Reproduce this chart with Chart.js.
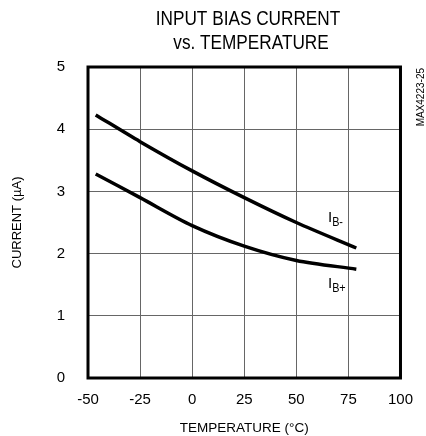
<!DOCTYPE html>
<html><head><meta charset="utf-8">
<script src="https://cdn.jsdelivr.net/npm/chart.js@4/dist/chart.umd.min.js"></script>
<style>html,body{margin:0;padding:0;background:#fff;}canvas{display:block;}</style>
</head><body>
<canvas id="c" width="426" height="436"></canvas>
<script>
const temperatures = [-46.3, -25, 0, 25, 50, 78.8];
const ibMinus = [4.23, 3.80, 3.33, 2.90, 2.50, 2.09];
const ibPlus = [3.28, 2.90, 2.45, 2.12, 1.89, 1.75];
const xTicks = [-50, -25, 0, 25, 50, 75, 100];
const yTicks = [0, 1, 2, 3, 4, 5];
const titleLines = ['INPUT BIAS CURRENT', 'vs. TEMPERATURE'];

const FONT = "'Liberation Sans', Arial, sans-serif";

const pts = (xs, ys) => xs.map((x, i) => ({x, y: ys[i]}));

const deco = {
  id: 'deco',
  afterDraw(chart) {
    const {ctx, chartArea: a} = chart;
    ctx.save();
    ctx.strokeStyle = '#000';
    ctx.lineWidth = 3;
    ctx.strokeRect(a.left, a.top, a.right - a.left, a.bottom - a.top);
    ctx.fillStyle = '#000';
    ctx.textBaseline = 'alphabetic';
    const cond = (txt, cx, y, size, k) => {
      ctx.save();
      ctx.font = size + "px " + FONT;
      ctx.textAlign = 'center';
      ctx.translate(cx, y);
      ctx.scale(k, 1);
      ctx.fillText(txt, 0, 0);
      ctx.restore();
    };
    cond(titleLines[0], 248, 25, 20, 0.86);
    cond(titleLines[1], 251, 49, 20, 0.86);
    const lab = (x, y, sub) => {
      ctx.textAlign = 'left';
      ctx.font = "15px " + FONT;
      ctx.fillText('I', x, y);
      const w = ctx.measureText('I').width;
      ctx.save();
      ctx.translate(x + w, y + 4);
      ctx.scale(0.9, 1);
      ctx.font = "12px " + FONT;
      ctx.fillText(sub, 0, 0);
      ctx.restore();
    };
    lab(328, 222, 'B-');
    lab(328, 288, 'B+');
    ctx.translate(426, 68);
    ctx.rotate(-Math.PI / 2);
    ctx.textAlign = 'right';
    ctx.textBaseline = 'bottom';
    ctx.font = "10px " + FONT;
    ctx.fillText('MAX4223-25', 0, 0);
    ctx.restore();
  }
};

new Chart(document.getElementById('c'), {
  type: 'line',
  data: {
    datasets: [
      {label: 'IB-', data: pts(temperatures, ibMinus), borderColor: '#000', borderWidth: 3.5, pointRadius: 0, tension: 0.3, fill: false},
      {label: 'IB+', data: pts(temperatures, ibPlus), borderColor: '#000', borderWidth: 3.5, pointRadius: 0, tension: 0.3, fill: false}
    ]
  },
  options: {
    responsive: false,
    animation: false,
    layout: {padding: {top: 67, right: 13, left: 0, bottom: 0}},
    plugins: {legend: {display: false}, tooltip: {enabled: false}, title: {display: false}},
    scales: {
      x: {
        type: 'linear', min: -50, max: 100,
        afterBuildTicks: s => { s.ticks = xTicks.map(v => ({value: v})); },
        afterFit: s => { s.height = 58; },
        grid: {color: '#666', lineWidth: 1, drawTicks: false},
        border: {display: false},
        ticks: {padding: 13, color: '#000', font: {family: FONT, size: 15}, maxRotation: 0},
        title: {display: true, text: 'TEMPERATURE (°C)', color: '#000', font: {family: FONT, size: 13.5}, padding: {top: 4, bottom: 0}}
      },
      y: {
        min: 0, max: 5,
        afterBuildTicks: s => { s.ticks = yTicks.map(v => ({value: v})); },
        afterFit: s => { s.width = 88; },
        grid: {color: '#666', lineWidth: 1, drawTicks: false},
        border: {display: false},
        ticks: {padding: 23, color: '#000', font: {family: FONT, size: 15}},
        title: {display: true, text: 'CURRENT (µA)', color: '#000', font: {family: FONT, size: 13}, padding: {top: 10, bottom: 0}}
      }
    }
  },
  plugins: [deco]
});
</script>
</body></html>
